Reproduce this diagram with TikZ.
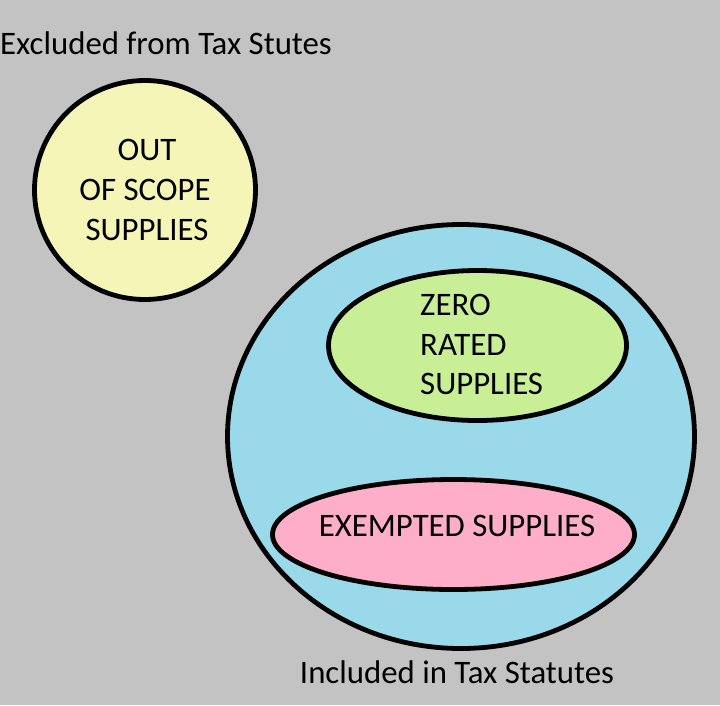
\documentclass[tikz,border=0pt]{standalone}
\usepackage{fontspec}
\setmainfont{Carlito}
\begin{document}
\begin{tikzpicture}[x=1pt,y=-1pt,
  blob/.style={draw=black,line width=4.8pt},
  lbl/.style={inner sep=0pt,font=\fontsize{32.8}{33}\selectfont}]
\useasboundingbox (0,0) rectangle (720,705);
\fill[fill={rgb,255:red,195;green,195;blue,195}] (0,0) rectangle (720,705);
\draw[blob,fill={rgb,255:red,245;green,245;blue,184}] (145,190) ellipse [x radius=110.5,y radius=109.5];
\draw[blob,fill={rgb,255:red,153;green,217;blue,234}] (461,436.5) ellipse [x radius=233.5,y radius=212];
\draw[blob,fill={rgb,255:red,200;green,238;blue,150}] (477.5,345.5) ellipse [x radius=149,y radius=75];
\draw[blob,fill={rgb,255:red,255;green,174;blue,201}] (453.5,534.5) ellipse [x radius=181,y radius=55];
\node[lbl,anchor=base west] (t1) at (0,54) {Excluded from Tax Stutes};
\node[lbl,anchor=base] (o1) at (147,160) {OUT};
\node[lbl,anchor=base] (o2) at (145,200) {OF SCOPE};
\node[lbl,anchor=base] (o3) at (147,240) {SUPPLIES};
\node[lbl,anchor=base west] (z1) at (420,315) {ZERO};
\node[lbl,anchor=base west] (z2) at (420,355) {RATED};
\node[lbl,anchor=base west] (z3) at (420,394) {SUPPLIES};
\node[lbl,anchor=base] (e1) at (457,536) {EXEMPTED SUPPLIES};
\node[lbl,anchor=base] (t2) at (457,683) {Included in Tax Statutes};
\end{tikzpicture}
\end{document}
